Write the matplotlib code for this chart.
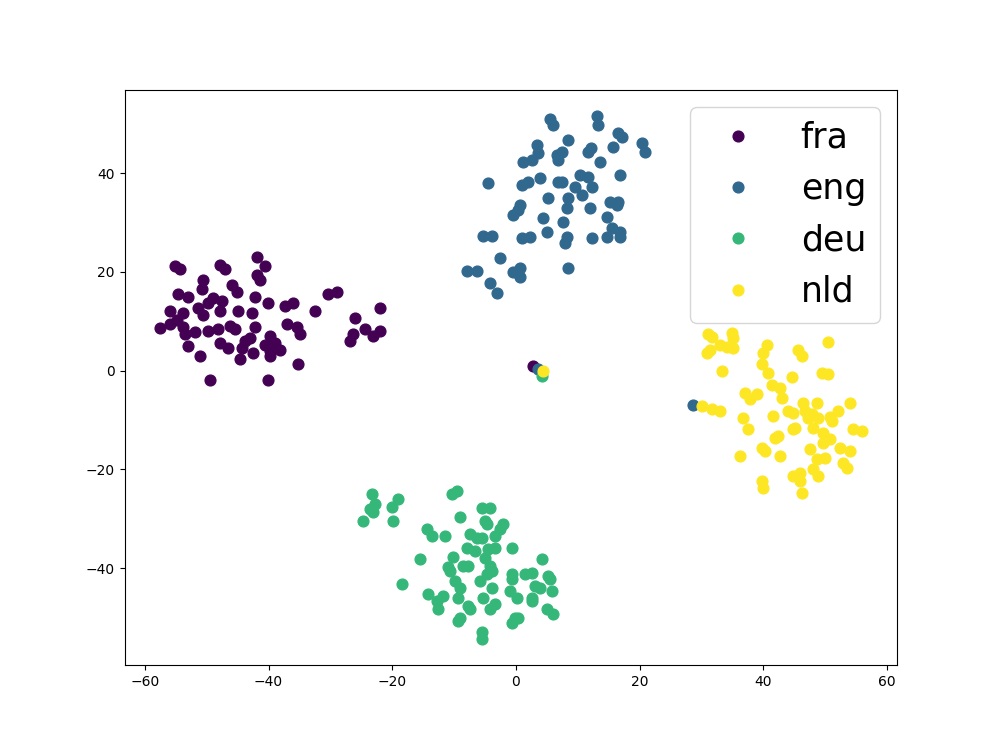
import numpy as np
import matplotlib.pyplot as plt
from matplotlib.lines import Line2D

# t-SNE coordinates, one set per language
fra_x = [-55.2, -54.3, -47.9, -47.1, -41.9, -40.6, -41.4, -41.9, -50.6, -50.8,
         -45.9, -45.1, -54.7, -53.0, -49.0, -49.8, -47.6, -42.2, -40.1, -56.0,
         -53.9, -51.4, -50.6, -47.9, -45.0, -42.7, -57.6, -56.0, -54.8, -53.9,
         -51.9, -53.5, -49.8, -48.2, -46.3, -45.4, -42.2, -39.8, -53.0, -47.9,
         -46.6, -43.8, -43.0, -44.3, -44.6, -42.5, -40.6, -39.8, -51.1, -49.5,
         -40.1, -30.4, -29.0, -37.4, -36.1, -32.5, -22.0, -37.0, -35.4, -34.9,
         -26.0, -24.4, -26.4, -26.8, -23.1, -22.0, -39.0, -38.2, -39.8, -35.3,
         2.7]
fra_y = [21.1, 20.5, 21.3, 20.5, 23.1, 21.1, 18.3, 19.3, 18.3, 16.6,
         17.3, 16.0, 15.6, 15.0, 14.6, 13.6, 14.0, 14.8, 13.6, 12.0,
         11.6, 12.6, 11.2, 12.0, 12.0, 11.6, 8.7, 9.5, 10.2, 8.9,
         7.9, 7.5, 8.1, 8.5, 9.1, 8.5, 8.9, 7.1, 4.9, 5.5,
         4.5, 5.9, 6.5, 4.5, 2.4, 3.5, 5.1, 3.9, 3.0, -2.0,
         -2.0, 15.6, 16.0, 13.0, 13.6, 12.0, 12.6, 9.5, 8.9, 7.5,
         10.6, 8.5, 7.5, 5.9, 6.9, 8.1, 5.5, 4.1, 3.0, 1.4,
         1.0]

eng_x = [5.5, 6.0, 3.4, 3.6, 6.6, 1.1, 2.6, -4.5, 1.0, 1.9,
         3.9, 6.8, 5.2, 0.6, 13.1, 13.3, 16.5, 17.1, 15.7, 20.4,
         20.9, 8.4, 7.4, 6.8, 11.6, 12.1, 13.6, 16.8, 7.4, 10.4,
         11.6, 9.5, 12.3, 10.7, 8.4, 15.2, 16.5, 8.2, 12.0, 16.3,
         14.7, 7.6, 8.2, 7.9, 12.3, 14.7, 15.5, 16.8, 16.8, 8.4,
         0.3, -0.5, 4.4, 5.0, -5.3, -3.9, 1.0, 2.3, -2.6, -7.9,
         -6.3, -0.5, 0.6, 0.6, -4.2, -3.1, 28.6, 3.6]
eng_y = [51.0, 49.7, 45.7, 44.1, 43.7, 42.2, 42.6, 38.0, 37.6, 38.2,
         39.0, 38.2, 34.9, 33.5, 51.6, 49.7, 48.1, 47.3, 45.3, 46.1,
         44.3, 46.7, 44.3, 42.6, 44.3, 45.1, 42.2, 39.6, 38.2, 39.6,
         39.2, 37.2, 37.2, 35.5, 34.9, 34.1, 34.1, 32.9, 32.9, 33.5,
         31.1, 30.0, 27.0, 25.8, 26.8, 27.0, 28.8, 28.0, 27.0, 20.7,
         32.5, 31.5, 30.9, 28.0, 27.2, 27.2, 26.8, 27.0, 22.7, 20.1,
         20.1, 19.9, 20.7, 18.9, 17.7, 15.8, -6.9, 0.4]

deu_x = [-23.3, -22.8, -23.6, -23.1, -24.7, -19.1, -20.1, -19.9, -14.4, -13.6,
         -11.5, -10.4, -9.5, -9.1, -15.5, -10.2, -11.0, -5.5, -4.2, -5.0,
         -4.7, -2.1, -2.6, -7.4, -6.3, -5.5, -3.4, -0.6, -7.9, -6.6,
         -4.5, -3.4, -5.0, 4.2, -8.6, -7.8, -4.2, -4.7, -0.6, 1.5,
         2.6, 5.2, -18.4, -10.7, -5.8, -3.9, -9.9, -9.1, -14.2, -11.8,
         -12.8, -12.6, -9.4, -3.9, -5.3, -7.8, -7.4, -9.1, -9.4, -3.4,
         -4.2, -0.6, -1.0, 0.2, 5.5, 5.8, 3.1, 3.9, 2.6, 2.6,
         5.0, 6.0, -0.2, 0.3, -0.6, -5.5, -5.5, 4.2]
deu_y = [-25.0, -27.0, -28.0, -28.6, -30.5, -26.0, -27.6, -30.5, -32.1, -33.5,
         -33.5, -25.0, -24.4, -29.6, -38.2, -37.8, -39.8, -27.8, -27.8, -30.5,
         -31.1, -31.1, -32.1, -33.1, -33.9, -33.9, -33.5, -35.9, -35.9, -36.5,
         -36.1, -35.9, -38.0, -38.2, -39.6, -39.6, -39.6, -41.2, -41.2, -41.2,
         -41.0, -41.6, -43.2, -40.6, -42.6, -40.6, -42.6, -44.1, -45.3, -45.7,
         -46.7, -48.3, -46.1, -44.1, -46.1, -47.7, -48.3, -50.2, -50.8, -47.3,
         -48.3, -42.2, -44.7, -46.1, -42.2, -44.7, -43.7, -44.1, -46.1, -46.7,
         -48.3, -49.3, -50.2, -50.2, -51.2, -53.0, -54.3, -1.0]

nld_x = [31.1, 31.7, 34.9, 35.1, 33.0, 34.1, 35.1, 30.9, 31.4, 40.6,
         39.9, 39.8, 40.8, 33.3, 41.4, 42.7, 43.0, 37.0, 37.8, 39.0,
         30.1, 31.7, 33.0, 36.7, 37.5, 41.6, 42.4, 41.9, 39.8, 40.3,
         42.7, 36.2, 39.8, 39.9, 50.5, 45.6, 46.3, 49.5, 50.5, 44.6,
         46.4, 48.7, 54.0, 44.0, 44.8, 46.7, 47.9, 47.2, 48.8, 52.1,
         50.8, 51.1, 45.1, 44.8, 48.0, 54.5, 56.0, 49.7, 50.8, 49.7,
         47.5, 52.4, 54.0, 48.7, 50.0, 52.9, 53.5, 48.0, 48.8, 44.8,
         45.9, 45.9, 46.3, 4.4]
nld_y = [7.5, 6.7, 7.7, 6.5, 5.1, 4.7, 4.5, 3.5, 4.1, 5.1,
         3.5, 1.4, -0.4, 0.0, -3.0, -3.5, -5.5, -4.5, -5.7, -4.7,
         -7.1, -7.7, -8.1, -9.7, -11.8, -9.1, -13.2, -13.6, -15.6, -16.2,
         -17.3, -17.3, -22.3, -23.8, 5.7, 4.1, 3.0, -0.4, -0.6, -1.4,
         -6.5, -6.5, -6.5, -8.1, -8.5, -8.1, -8.7, -9.7, -9.7, -8.1,
         -9.5, -10.2, -11.6, -11.8, -11.6, -11.8, -12.2, -12.6, -13.8, -14.6,
         -15.8, -15.6, -16.2, -17.9, -17.7, -18.7, -19.7, -19.9, -21.3, -21.3,
         -20.7, -22.3, -24.8, 0.0]

langs = ['fra', 'eng', 'deu', 'nld']
colors = plt.cm.viridis(np.linspace(0, 1, len(langs)))

fig = plt.figure(figsize=(9.97, 7.47), dpi=100)
ax = fig.add_subplot(111)

xs = [fra_x, eng_x, deu_x, nld_x]
ys = [fra_y, eng_y, deu_y, nld_y]
for x, y, c in zip(xs, ys, colors):
    ax.scatter(x, y, color=c, s=60)

handles = [Line2D([0], [0], marker='o', linestyle='', color=c, markersize=np.sqrt(60))
           for c in colors]
ax.legend(handles, langs, loc='upper right', fontsize=25)

fig.savefig('out.png', dpi=100)
